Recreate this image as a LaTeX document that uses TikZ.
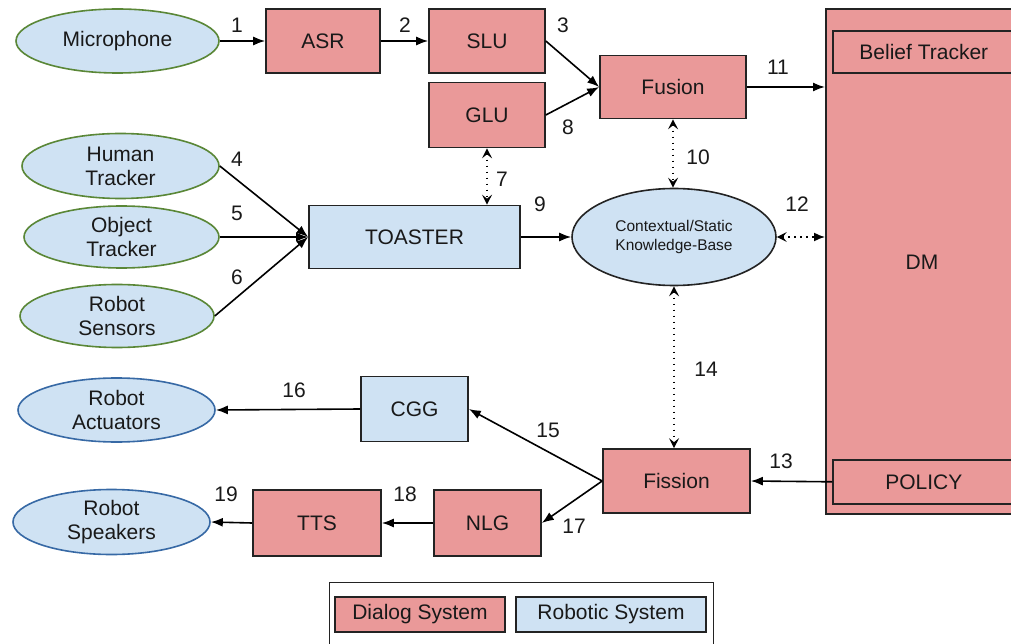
\documentclass[tikz,border=0pt]{standalone}
\usepackage{fontspec}
\setmainfont{Liberation Sans}
\usetikzlibrary{arrows.meta,shapes.geometric}
\definecolor{pinkf}{RGB}{234,153,153}
\definecolor{bluef}{RGB}{207,226,243}
\definecolor{greenb}{RGB}{90,135,55}
\definecolor{blueb}{RGB}{55,105,165}
\definecolor{edgec}{RGB}{35,35,35}
\begin{document}
\begin{tikzpicture}[x=1pt,y=-1pt,
  every node/.style={font=\fontsize{21}{24}\selectfont, text=black!90},
  pbox/.style={rectangle, draw=edgec, line width=1.6pt, fill=pinkf, inner sep=0pt},
  bbox/.style={rectangle, draw=edgec, line width=1.6pt, fill=bluef, inner sep=0pt},
  gell/.style={ellipse, draw=greenb, line width=1.6pt, fill=bluef, inner sep=0pt, align=center},
  bell/.style={ellipse, draw=blueb, line width=1.6pt, fill=bluef, inner sep=0pt, align=center},
  kbell/.style={ellipse, draw=edgec, line width=1.6pt, fill=bluef, inner sep=0pt, align=center},
  arr/.style={-{Latex[length=12pt,width=9pt]}, line width=1.6pt, draw=black},
  dotline/.style={dash pattern=on 1.6pt off 4.4pt, line width=1.6pt, draw=black},
  darr/.style={dotline, {Stealth[length=10pt,width=10pt,inset=4pt]}-{Stealth[length=10pt,width=10pt,inset=4pt]}},
  darrb/.style={dotline, {Stealth[length=10pt,width=10pt,inset=4pt]}-{Latex[length=11pt,width=9pt]}},
  num/.style={inner sep=0pt}]
\useasboundingbox (0,0) rectangle (1011,644);
\fill[white] (0,0) rectangle (1011,644);

% top row
\node[gell, minimum width=203, minimum height=64] (mic) at (117.5,41) {Microphone};
\node[pbox, minimum width=114, minimum height=64] (asr) at (323,41) {ASR};
\node[pbox, minimum width=116, minimum height=64] (slu) at (487,41) {SLU};
\node[pbox, minimum width=116, minimum height=65] (glu) at (487,115) {GLU};
\node[pbox, minimum width=146, minimum height=63] (fusion) at (673,87) {Fusion};

% DM
\node[pbox, anchor=north west, minimum width=200, minimum height=505] (dm) at (825,8) {};
\node (dmlabel) at (922,262) {DM};
\node[pbox, anchor=north west, minimum width=182, minimum height=42] (bt) at (832,30) {Belief Tracker};
\node[pbox, anchor=north west, minimum width=182, minimum height=44] (pol) at (832,459) {POLICY};

% middle
\node[gell, minimum width=197, minimum height=65] (ht) at (120.5,166) {Human\\Tracker};
\node[gell, minimum width=195, minimum height=62] (ot) at (121.5,237) {Object\\Tracker};
\node[gell, minimum width=194, minimum height=63] (rs) at (117,316) {Robot\\Sensors};
\node[bbox, minimum width=211, minimum height=63] (toaster) at (414.5,237) {TOASTER};
\node[kbell, minimum width=204, minimum height=97, font=\fontsize{15.5}{19}\selectfont] (kb) at (674,237) {Contextual/Static\\Knowledge-Base};

% bottom
\node[pbox, minimum width=147, minimum height=64] (fission) at (676.5,481) {Fission};
\node[bbox, minimum width=107, minimum height=65] (cgg) at (414.5,409) {CGG};
\node[bell, minimum width=197, minimum height=64] (ra) at (116.5,410) {Robot\\Actuators};
\node[pbox, minimum width=128, minimum height=66] (tts) at (317,523) {TTS};
\node[pbox, minimum width=107, minimum height=66] (nlg) at (487.5,523) {NLG};
\node[bell, minimum width=197, minimum height=65] (rsp) at (111.5,522) {Robot\\Speakers};

% legend
\node[draw=edgec, line width=1.4pt, fill=white, anchor=north west, minimum width=384, minimum height=70, inner sep=0pt] (legend) at (329,582) {};
\node[pbox, minimum width=170, minimum height=35] (ld) at (420,614.5) {Dialog System};
\node[bbox, minimum width=190, minimum height=35] (lr) at (611,614.5) {Robotic System};

% connectors
\draw[arr] (mic.east) -- (asr.west);
\draw[arr] (asr.east) -- (slu.west);
\draw[arr] (slu.east) -- (fusion.west);
\draw[arr] (glu.east) -- (fusion.west);
\draw[arr] (fusion.east) -- (fusion.east -| dm.west);
\draw[darr] (fusion.south) -- (fusion.south |- kb.north);
\draw[darr] (glu.south) -- (glu.south |- toaster.north);
\draw[arr] (ht.east) -- (toaster.west);
\draw[arr] (ot.east) -- (toaster.west);
\draw[arr] (rs.east) -- (toaster.west);
\draw[arr] (toaster.east) -- (kb.west);
\draw[darrb] (kb.east) -- (kb.east -| dm.west);
\draw[darr] (kb.south) -- (kb.south |- fission.north);
\draw[arr] (pol.west) -- (fission.east);
\draw[arr] (fission.west) -- (cgg.east);
\draw[arr] (fission.west) -- (nlg.east);
\draw[arr] (cgg.west) -- (ra.east);
\draw[arr] (nlg.west) -- (tts.east);
\draw[arr] (tts.west) -- (rsp.east);

% numbers
\node[num] (n1) at (237,25) {1};
\node[num] (n2) at (405,25) {2};
\node[num] (n3) at (563,25) {3};
\node[num] (n4) at (237,159) {4};
\node[num] (n5) at (237,213) {5};
\node[num] (n6) at (237,277) {6};
\node[num] (n7) at (502,179) {7};
\node[num] (n8) at (568,127) {8};
\node[num] (n9) at (540,204) {9};
\node[num] (n10) at (698,157) {10};
\node[num] (n11) at (778,67) {11};
\node[num] (n12) at (797,204) {12};
\node[num] (n13) at (781,461) {13};
\node[num] (n14) at (706,369) {14};
\node[num] (n15) at (548,430) {15};
\node[num] (n16) at (294,390) {16};
\node[num] (n17) at (574,526) {17};
\node[num] (n18) at (405,494) {18};
\node[num] (n19) at (226,494) {19};
\end{tikzpicture}
\end{document}
